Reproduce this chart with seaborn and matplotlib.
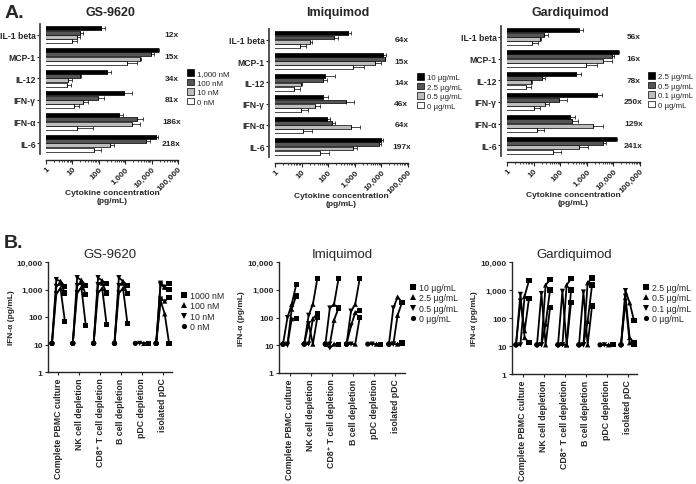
import numpy as np
import pandas as pd
import matplotlib.pyplot as plt
import seaborn as sns
from matplotlib.ticker import LogLocator, NullLocator, NullFormatter

sns.set_style("ticks")
plt.rcParams['font.family'] = ['Liberation Sans', 'DejaVu Sans']
plt.rcParams['axes.linewidth'] = 1.0

# ------------------------------------------------------------------
# Panel A data: cytokine levels (pg/mL), rows = cytokines, cols = doses (high -> 0)
# ------------------------------------------------------------------
CYTOKINES = ['IL-1 beta', 'MCP-1', 'IL-12', 'IFN-γ', 'IFN-α', 'IL-6']
BAR_COLORS = ['#000000', '#555555', '#bdbdbd', '#ffffff']

GS_DOSES_A = ['1,000 nM', '100 nM', '10 nM', '0 nM']
GS_VALUES = [[120, 20, 15, 10],
             [18000, 9400, 3500, 1200],
             [200, 19, 7, 6],
             [940, 97, 26, 11.5],
             [570, 2800, 1800, 15],
             [14700, 6400, 270, 67]]
GS_ERRORS = [[50, 6, 4, 5],
             [1600, 3300, 600, 1700],
             [90, 3, 2.7, 3.2],
             [910, 63, 13, 6.5],
             [270, 2000, 1700, 43],
             [2300, 2300, 120, 52]]
GS_FOLDS = ['12x', '15x', '34x', '81x', '186x', '218x']

IMI_DOSES_A = ['10 µg/mL', '2.5 µg/mL', '0.5 µg/mL', '0 µg/mL']
IMI_VALUES = [[560, 160, 20, 8.7],
              [11000, 13300, 6000, 870],
              [75, 65, 9.4, 5.3],
              [65, 450, 31, 9.8],
              [87, 145, 750, 11.7],
              [10000, 8000, 870, 51]]
IMI_ERRORS = [[130, 77, 3.7, 6],
              [4400, 700, 4000, 1300],
              [103, 22, 0.6, 3.5],
              [35, 465, 17, 7.3],
              [35, 33, 780, 12],
              [1500, 2000, 390, 54]]
IMI_FOLDS = ['64x', '15x', '14x', '46x', '64x', '197x']

GAR_DOSES_A = ['2.5 µg/mL', '0.5 µg/mL', '0.1 µg/mL', '0 µg/mL']
GAR_VALUES = [[490, 25, 17, 8.7],
              [14500, 8900, 4200, 900],
              [400, 20.6, 8, 5.1],
              [2500, 89, 26, 10],
              [240, 270, 1700, 13],
              [12600, 3900, 530, 53]]
GAR_ERRORS = [[220, 8.5, 1.8, 5.8],
              [1800, 2000, 5000, 1550],
              [190, 6.8, 0.7, 3.1],
              [1100, 89, 10.5, 6.8],
              [125, 215, 2500, 10.7],
              [1400, 1400, 550, 52]]
GAR_FOLDS = ['56x', '16x', '78x', '250x', '129x', '241x']

# ------------------------------------------------------------------
# Panel B data: IFN-alpha (pg/mL) per donor, values at the 4 doses (0, low, mid, high)
# ------------------------------------------------------------------
CONDITIONS = ['Complete PBMC culture', 'NK cell depletion', 'CD8⁺ T cell depletion',
              'B cell depletion', 'pDC depletion', 'isolated pDC']
DOSE_OFFSETS = [-0.31, -0.1, 0.1, 0.31]
MARKERS = ['s', '^', 'v', 'o']

GS_DOSES_B = ['1000 nM', '100 nM', '10 nM', '0 nM']
GS_IFN = [
    [[11, 2300, 2000, 1300], [11, 1300, 1700, 750], [11, 700, 1100, 70]],
    [[11, 2700, 2200, 1400], [11, 1400, 1800, 650], [11, 750, 1200, 50]],
    [[11, 2700, 2100, 1600], [11, 1500, 1700, 750], [11, 750, 1100, 55]],
    [[11, 2700, 2000, 1400], [11, 1400, 1700, 700], [11, 750, 1100, 60]],
    [[11, 11, 11, 11]],
    [[11, 1700, 1300, 1700], [11, 1500, 1200, 1000], [11, 450, 380, 500], [11, 400, 130, 11]],
]

IMI_DOSES_B = ['10 µg/mL', '2.5 µg/mL', '0.5 µg/mL', '0 µg/mL']
IMI_IFN = [
    [[11, 100, 300, 1500], [11, 11, 200, 600], [11, 10, 90, 90]],
    [[11, 120, 300, 2500], [11, 60, 11, 100], [11, 11, 90, 140]],
    [[11, 220, 300, 2500], [11, 11, 80, 220], [11, 8, 11, 11]],
    [[11, 170, 300, 2500], [11, 50, 150, 180], [11, 11, 11, 100]],
    [[11, 11, 11, 11]],
    [[11, 220, 550, 350], [11, 11, 120, 350], [11, 11, 11, 12]],
]

GAR_DOSES_B = ['2.5 µg/mL', '0.5 µg/mL', '0.1 µg/mL', '0 µg/mL']
GAR_IFN = [
    [[11, 11, 600, 2200], [11, 700, 20, 13], [11, 400, 35, 500]],
    [[11, 11, 1500, 2300], [11, 750, 11, 230], [11, 11, 60, 1000]],
    [[11, 11, 1500, 2500], [11, 900, 11, 350], [11, 11, 11, 1000]],
    [[11, 11, 1800, 2700], [11, 850, 11, 270], [11, 11, 75, 1500]],
    [[11, 11, 11, 11]],
    [[11, 950, 350, 80], [11, 600, 20, 13], [11, 400, 13, 11]],
]

W, H = 696, 485


def px_rect(left, top, right, bottom):
    """Convert pixel box to figure fraction rect."""
    return [left / W, 1 - bottom / H, (right - left) / W, (bottom - top) / H]


def bar_panel(fig, rect, title, title_x, doses, values, errors, folds, leg_xy):
    ax = fig.add_axes(rect)
    ax.set_xscale('log')
    rows = [(c, d, values[i][j]) for i, c in enumerate(CYTOKINES) for j, d in enumerate(doses)]
    df = pd.DataFrame(rows, columns=['cytokine', 'dose', 'value'])
    sns.barplot(data=df, x='value', y='cytokine', hue='dose', order=CYTOKINES,
                hue_order=doses, palette=BAR_COLORS, orient='h', errorbar=None,
                edgecolor='black', linewidth=0.5, width=0.8, gap=0.1, ax=ax)

    # error bars (upper side only), matched to bars by position
    bars = [p for p in ax.patches if p.get_height() > 0]
    by_cat = {}
    for p in bars:
        yc = p.get_y() + p.get_height() / 2
        by_cat.setdefault(int(round(yc)), []).append(yc)
    for i, ys in by_cat.items():
        for j, yc in enumerate(sorted(ys)):
            ax.errorbar(values[i][j], yc, xerr=[[0], [errors[i][j]]], fmt='none',
                        ecolor='black', elinewidth=0.5, capsize=1.2, capthick=0.5)

    # despine first: moving spines resets tick label styling
    sns.despine(ax=ax, offset=4)
    ax.set_xlim(1, 1e5)
    ax.set_ylim(5.5, -0.5)
    ax.set_xticks([1, 10, 100, 1000, 1e4, 1e5])
    ax.set_xticklabels(['1', '10', '100', '1,000', '10,000', '100,000'],
                       rotation=45, ha='right', rotation_mode='anchor',
                       fontsize=6, fontweight='bold')
    ax.xaxis.set_minor_locator(LogLocator(base=10, subs=np.arange(2, 10), numticks=20))
    ax.xaxis.set_minor_formatter(NullFormatter())
    ax.tick_params(axis='x', which='major', length=3, width=0.8, pad=1)
    ax.tick_params(axis='x', which='minor', length=1.5, width=0.6)
    ax.tick_params(axis='y', length=2.5, width=0.8, pad=1)
    ax.spines['left'].set_color('#444444')
    ax.spines['left'].set_linewidth(1.3)
    ax.set_yticks(range(len(CYTOKINES)))
    ax.set_yticklabels(CYTOKINES, fontsize=6.2, fontweight='bold')
    ax.set_ylabel('')
    ax.set_xlabel('Cytokine concentration\n(pg/mL)', fontsize=6, fontweight='bold')
    ax.xaxis.set_label_coords(0.5, -0.27)

    for i, f in enumerate(folds):
        ax.text(0.95, i, f, transform=ax.get_yaxis_transform(), ha='center',
                va='center', fontsize=6, fontweight='bold')

    sns.move_legend(ax, 'upper left', bbox_to_anchor=leg_xy, bbox_transform=fig.transFigure,
                    title=None, frameon=False, fontsize=5.7, handlelength=0.9,
                    handleheight=0.9, handletextpad=0.4, labelspacing=0.2,
                    borderpad=0, borderaxespad=0)
    fig.text(title_x / W, 1 - 13 / H, title, ha='center', va='center',
             fontsize=9, fontweight='bold')
    return ax


def line_panel(fig, rect, title, doses, groups, leg_xy):
    ax = fig.add_axes(rect)
    ax.set_yscale('log')
    rows = []
    for g, donors in enumerate(groups):
        for k, donor in enumerate(donors):
            for pos, v in enumerate(donor):
                rows.append({'x': g + DOSE_OFFSETS[pos], 'ifn': v,
                             'unit': f'{g}-{k}', 'dose': doses[3 - pos]})
    df = pd.DataFrame(rows)
    sns.lineplot(data=df, x='x', y='ifn', units='unit', estimator=None, color='black',
                 linewidth=1.3, legend=False, ax=ax)
    sns.scatterplot(data=df, x='x', y='ifn', style='dose', style_order=doses,
                    markers=MARKERS, color='black', s=14, linewidth=0, ax=ax, zorder=3)

    sns.despine(ax=ax)
    ax.set_xlim(-0.5, 5.45)
    ax.set_ylim(1, 10000)
    ax.set_xticks(range(len(CONDITIONS)))
    ax.set_xticklabels(CONDITIONS, rotation=90, fontsize=6.3, fontweight='bold')
    ax.set_yticks([1, 10, 100, 1000, 10000])
    ax.set_yticklabels(['1', '10', '100', '1,000', '10,000'], fontsize=6, fontweight='bold')
    ax.yaxis.set_minor_locator(NullLocator())
    ax.tick_params(axis='both', length=2.5, width=0.8, pad=1.5)
    ax.set_xlabel('')
    ax.set_ylabel('IFN-α (pg/mL)', fontsize=6, fontweight='bold')
    ax.yaxis.set_label_coords(-0.27, 0.5)

    sns.move_legend(ax, 'upper left', bbox_to_anchor=leg_xy, bbox_transform=fig.transFigure,
                    title=None, frameon=False, fontsize=6.3, handlelength=0.8,
                    handletextpad=0.3, labelspacing=0.15, borderpad=0, borderaxespad=0,
                    markerscale=1.0)
    fig.text((rect[0] + rect[2] / 2), 1 - 255 / H, title, ha='center', va='center',
             fontsize=9.5)
    return ax


fig = plt.figure(figsize=(W / 100, H / 100), dpi=100)

bar_panel(fig, px_rect(46, 25, 178, 155), 'GS-9620', 110, GS_DOSES_A, GS_VALUES,
          GS_ERRORS, GS_FOLDS, (187 / W, 1 - 70 / H))
bar_panel(fig, px_rect(275, 30, 408, 158), 'Imiquimod', 338, IMI_DOSES_A, IMI_VALUES,
          IMI_ERRORS, IMI_FOLDS, (417 / W, 1 - 74 / H))
bar_panel(fig, px_rect(507, 27, 640, 157), 'Gardiquimod', 570, GAR_DOSES_A, GAR_VALUES,
          GAR_ERRORS, GAR_FOLDS, (648 / W, 1 - 73 / H))

line_panel(fig, px_rect(48, 263, 172, 373), 'GS-9620', GS_DOSES_B, GS_IFN,
           (180 / W, 1 - 292 / H))
line_panel(fig, px_rect(279, 263, 405, 374), 'Imiquimod', IMI_DOSES_B, IMI_IFN,
           (409 / W, 1 - 284 / H))
line_panel(fig, px_rect(512, 263, 637, 375), 'Gardiquimod', GAR_DOSES_B, GAR_IFN,
           (642 / W, 1 - 284 / H))

fig.text(0.006, 1 - 14 / H, 'A.', fontsize=14, fontweight='bold', va='center')
fig.text(0.006, 1 - 244 / H, 'B.', fontsize=14, fontweight='bold', va='center')

fig.savefig('out.png', dpi=100)
